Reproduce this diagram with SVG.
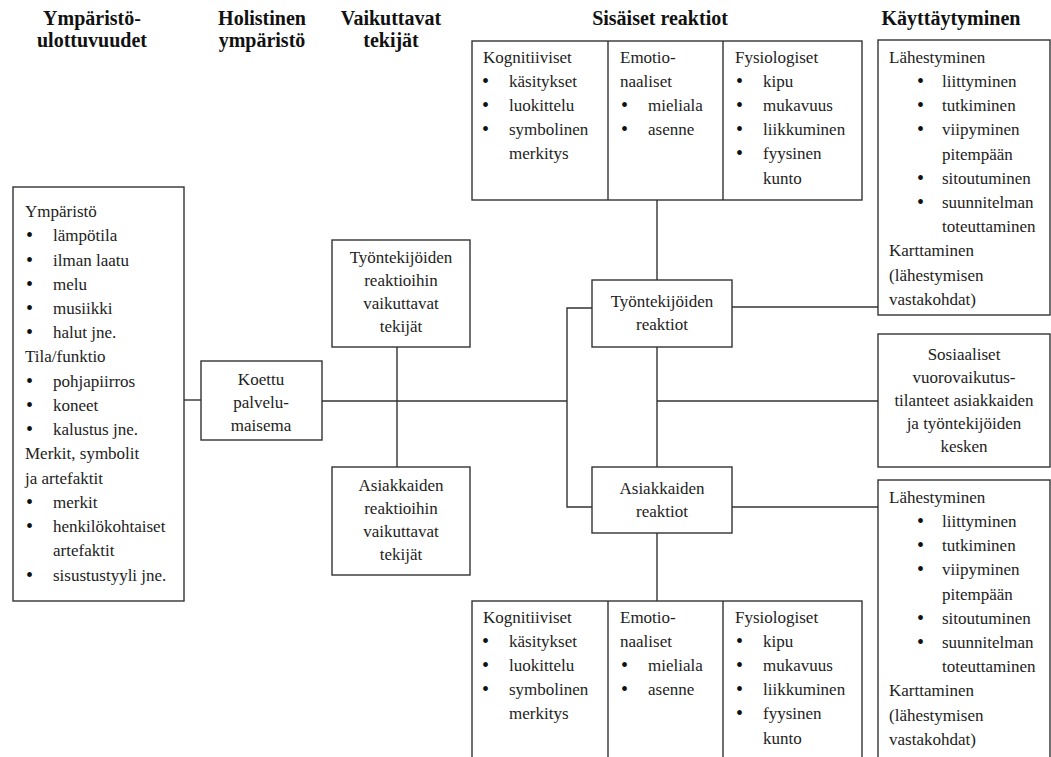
<svg xmlns="http://www.w3.org/2000/svg" width="1051" height="757" viewBox="0 0 1051 757" font-family="Liberation Serif, serif">
  <style>
    text { font-family: "Liberation Serif", serif; }
    .h { font-size: 20px; font-weight: bold; fill: #111; text-anchor: middle; }
    .t { font-size: 17px; fill: #222; }
    .b { font-size: 20px; fill: #111; }
    .c { text-anchor: middle; }
    .box { fill: #fff; stroke: #333; stroke-width: 1.4; }
    .ln { fill: none; stroke: #333; stroke-width: 1.4; }
  </style>

  <rect width="1051" height="757" fill="#fff"/>

  <!-- column headings -->
  <g id="headings">
    <text class="h" x="92" y="25">Ympäristö-</text>
    <text class="h" x="92" y="47">ulottuvuudet</text>
    <text class="h" x="262" y="25">Holistinen</text>
    <text class="h" x="262" y="47">ympäristö</text>
    <text class="h" x="391" y="25">Vaikuttavat</text>
    <text class="h" x="391" y="47">tekijät</text>
    <text class="h" x="660" y="25">Sisäiset reaktiot</text>
    <text class="h" x="951" y="25">Käyttäytyminen</text>
  </g>

  <!-- connectors -->
  <g id="connectors">
    <line class="ln" x1="184" y1="400" x2="201" y2="400"/>
    <line class="ln" x1="322" y1="401" x2="567" y2="401"/>
    <line class="ln" x1="397" y1="347" x2="397" y2="467"/>
    <polyline class="ln" points="593,308 567,308 567,507 592,507"/>
    <line class="ln" x1="657" y1="200" x2="657" y2="280"/>
    <line class="ln" x1="657" y1="347" x2="657" y2="467"/>
    <line class="ln" x1="657" y1="401" x2="878" y2="401"/>
    <line class="ln" x1="732" y1="307" x2="878" y2="307"/>
    <line class="ln" x1="732" y1="507" x2="878" y2="507"/>
    <line class="ln" x1="657" y1="533" x2="657" y2="601"/>
  </g>

  <!-- environmental dimensions -->
  <g id="environmentDimensions">
    <rect class="box" x="13" y="187" width="171" height="414"/>
    <text class="t" x="25" y="217">Ympäristö</text>
    <text class="b" x="26" y="242">•</text><text class="t" x="53" y="241">lämpötila</text>
    <text class="b" x="26" y="267">•</text><text class="t" x="53" y="266">ilman laatu</text>
    <text class="b" x="26" y="291">•</text><text class="t" x="53" y="290">melu</text>
    <text class="b" x="26" y="315">•</text><text class="t" x="53" y="314">musiikki</text>
    <text class="b" x="26" y="339">•</text><text class="t" x="53" y="338">halut jne.</text>
    <text class="t" x="25" y="362">Tila/funktio</text>
    <text class="b" x="26" y="388">•</text><text class="t" x="53" y="387">pohjapiirros</text>
    <text class="b" x="26" y="412">•</text><text class="t" x="53" y="411">koneet</text>
    <text class="b" x="26" y="436">•</text><text class="t" x="53" y="435">kalustus jne.</text>
    <text class="t" x="25" y="459">Merkit, symbolit</text>
    <text class="t" x="25" y="484">ja artefaktit</text>
    <text class="b" x="26" y="509">•</text><text class="t" x="53" y="508">merkit</text>
    <text class="b" x="26" y="533">•</text><text class="t" x="53" y="532">henkilökohtaiset</text>
    <text class="t" x="53" y="556">artefaktit</text>
    <text class="b" x="26" y="582">•</text><text class="t" x="53" y="581">sisustustyyli  jne.</text>
  </g>

  <!-- perceived servicescape -->
  <g id="servicescape">
    <rect class="box" x="201" y="361" width="121" height="79"/>
    <text class="t c" x="261" y="385">Koettu</text>
    <text class="t c" x="261" y="408">palvelu-</text>
    <text class="t c" x="261" y="431">maisema</text>
  </g>

  <!-- moderators -->
  <g id="employeeModerators">
    <rect class="box" x="332" y="240" width="138" height="107"/>
    <text class="t c" x="401" y="263">Työntekijöiden</text>
    <text class="t c" x="401" y="286">reaktioihin</text>
    <text class="t c" x="401" y="309">vaikuttavat</text>
    <text class="t c" x="401" y="332">tekijät</text>
  </g>
  <g id="customerModerators">
    <rect class="box" x="332" y="467" width="138" height="108"/>
    <text class="t c" x="401" y="491">Asiakkaiden</text>
    <text class="t c" x="401" y="514">reaktioihin</text>
    <text class="t c" x="401" y="537">vaikuttavat</text>
    <text class="t c" x="401" y="560">tekijät</text>
  </g>

  <!-- employees' internal responses -->
  <g id="employeeInternal" transform="translate(0,41)">
    <rect class="box" x="472" y="0" width="390" height="159"/>
    <line class="ln" x1="608" y1="0" x2="608" y2="159"/>
    <line class="ln" x1="723" y1="0" x2="723" y2="159"/>
    <text class="t" x="483" y="22">Kognitiiviset</text>
    <text class="b" x="482" y="47">•</text><text class="t" x="509" y="46">käsitykset</text>
    <text class="b" x="482" y="71">•</text><text class="t" x="509" y="70">luokittelu</text>
    <text class="b" x="482" y="95">•</text><text class="t" x="509" y="94">symbolinen</text>
    <text class="t" x="509" y="118">merkitys</text>
    <text class="t" x="620" y="22">Emotio-</text>
    <text class="t" x="620" y="46">naaliset</text>
    <text class="b" x="621" y="71">•</text><text class="t" x="648" y="70">mieliala</text>
    <text class="b" x="621" y="95">•</text><text class="t" x="648" y="94">asenne</text>
    <text class="t" x="735" y="22">Fysiologiset</text>
    <text class="b" x="736" y="47">•</text><text class="t" x="763" y="46">kipu</text>
    <text class="b" x="736" y="71">•</text><text class="t" x="763" y="70">mukavuus</text>
    <text class="b" x="736" y="95">•</text><text class="t" x="763" y="94">liikkuminen</text>
    <text class="b" x="736" y="119">•</text><text class="t" x="763" y="118">fyysinen</text>
    <text class="t" x="763" y="143">kunto</text>
  </g>

  <!-- employees' responses -->
  <g id="employeeResponses">
    <rect class="box" x="592" y="280" width="140" height="67"/>
    <text class="t c" x="662" y="307">Työntekijöiden</text>
    <text class="t c" x="662" y="330">reaktiot</text>
  </g>

  <!-- customers' responses -->
  <g id="customerResponses">
    <rect class="box" x="592" y="467" width="140" height="66"/>
    <text class="t c" x="662" y="494">Asiakkaiden</text>
    <text class="t c" x="662" y="517">reaktiot</text>
  </g>

  <!-- customers' internal responses -->
  <g id="customerInternal" transform="translate(0,601)">
    <rect class="box" x="472" y="0" width="390" height="170"/>
    <line class="ln" x1="608" y1="0" x2="608" y2="170"/>
    <line class="ln" x1="723" y1="0" x2="723" y2="170"/>
    <text class="t" x="483" y="22">Kognitiiviset</text>
    <text class="b" x="482" y="47">•</text><text class="t" x="509" y="46">käsitykset</text>
    <text class="b" x="482" y="71">•</text><text class="t" x="509" y="70">luokittelu</text>
    <text class="b" x="482" y="95">•</text><text class="t" x="509" y="94">symbolinen</text>
    <text class="t" x="509" y="118">merkitys</text>
    <text class="t" x="620" y="22">Emotio-</text>
    <text class="t" x="620" y="46">naaliset</text>
    <text class="b" x="621" y="71">•</text><text class="t" x="648" y="70">mieliala</text>
    <text class="b" x="621" y="95">•</text><text class="t" x="648" y="94">asenne</text>
    <text class="t" x="735" y="22">Fysiologiset</text>
    <text class="b" x="736" y="47">•</text><text class="t" x="763" y="46">kipu</text>
    <text class="b" x="736" y="71">•</text><text class="t" x="763" y="70">mukavuus</text>
    <text class="b" x="736" y="95">•</text><text class="t" x="763" y="94">liikkuminen</text>
    <text class="b" x="736" y="119">•</text><text class="t" x="763" y="118">fyysinen</text>
    <text class="t" x="763" y="143">kunto</text>
  </g>

  <!-- employees' behaviour -->
  <g id="employeeBehaviour">
    <rect class="box" x="878" y="40" width="172" height="275"/>
    <g transform="translate(0,41)">
      <text class="t" x="889" y="22">Lähestyminen</text>
      <text class="b" x="917" y="47">•</text><text class="t" x="942" y="46">liittyminen</text>
      <text class="b" x="917" y="71">•</text><text class="t" x="942" y="70">tutkiminen</text>
      <text class="b" x="917" y="95">•</text><text class="t" x="942" y="94">viipyminen</text>
      <text class="t" x="942" y="119">pitempään</text>
      <text class="b" x="917" y="144">•</text><text class="t" x="942" y="143">sitoutuminen</text>
      <text class="b" x="917" y="168">•</text><text class="t" x="942" y="167">suunnitelman</text>
      <text class="t" x="942" y="191">toteuttaminen</text>
      <text class="t" x="889" y="215">Karttaminen</text>
      <text class="t" x="889" y="240">(lähestymisen</text>
      <text class="t" x="889" y="264">vastakohdat)</text>
    </g>
  </g>

  <!-- social interactions -->
  <g id="socialInteraction">
    <rect class="box" x="878" y="334" width="172" height="133"/>
    <text class="t c" x="964" y="360">Sosiaaliset</text>
    <text class="t c" x="964" y="383">vuorovaikutus-</text>
    <text class="t c" x="964" y="406">tilanteet asiakkaiden</text>
    <text class="t c" x="964" y="429">ja työntekijöiden</text>
    <text class="t c" x="964" y="452">kesken</text>
  </g>

  <!-- customers' behaviour -->
  <g id="customerBehaviour">
    <rect class="box" x="878" y="480" width="172" height="290"/>
    <g transform="translate(0,481)">
      <text class="t" x="889" y="22">Lähestyminen</text>
      <text class="b" x="917" y="47">•</text><text class="t" x="942" y="46">liittyminen</text>
      <text class="b" x="917" y="71">•</text><text class="t" x="942" y="70">tutkiminen</text>
      <text class="b" x="917" y="95">•</text><text class="t" x="942" y="94">viipyminen</text>
      <text class="t" x="942" y="119">pitempään</text>
      <text class="b" x="917" y="144">•</text><text class="t" x="942" y="143">sitoutuminen</text>
      <text class="b" x="917" y="168">•</text><text class="t" x="942" y="167">suunnitelman</text>
      <text class="t" x="942" y="191">toteuttaminen</text>
      <text class="t" x="889" y="215">Karttaminen</text>
      <text class="t" x="889" y="240">(lähestymisen</text>
      <text class="t" x="889" y="264">vastakohdat)</text>
    </g>
  </g>
</svg>
